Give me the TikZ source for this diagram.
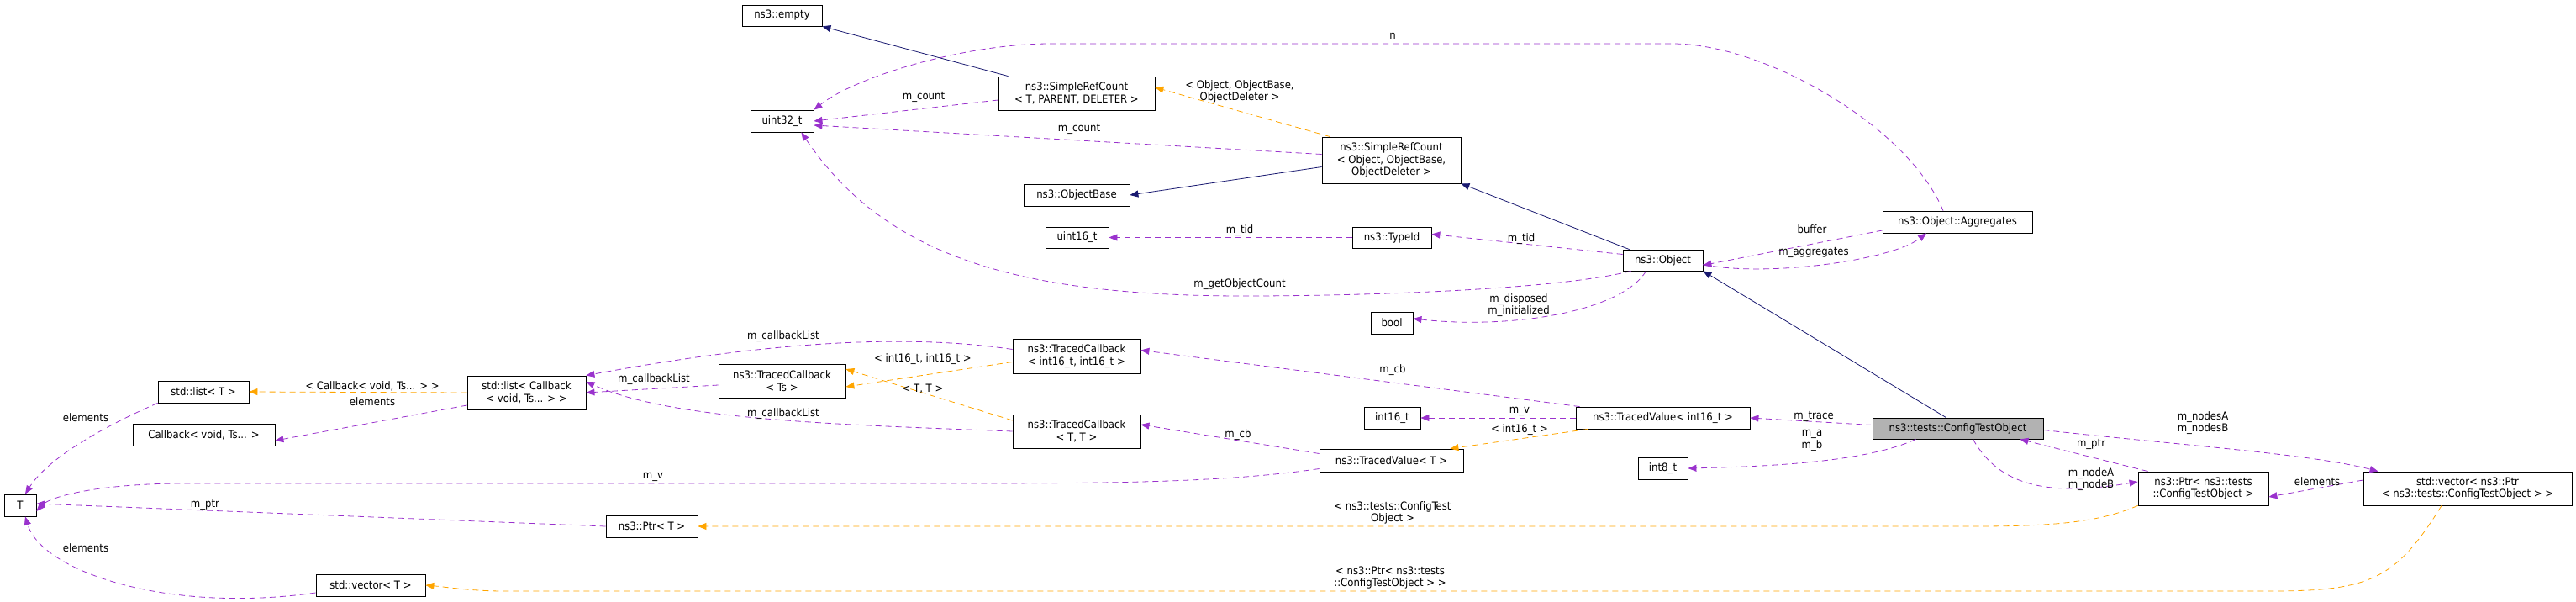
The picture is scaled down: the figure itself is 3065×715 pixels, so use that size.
\documentclass[tikz,border=0pt]{standalone}
\usepackage{fontspec}
\setmainfont{DejaVu Sans Condensed}
\usetikzlibrary{arrows.meta}

\definecolor{member}{HTML}{9A32CD}
\definecolor{tmpl}{HTML}{FFA500}
\definecolor{inherit}{HTML}{191970}

\begin{document}
\begin{tikzpicture}[x=1pt,y=-1pt,>={Triangle[length=10pt,width=8pt]},
                    font=\fontsize{13}{14.5}\selectfont]

  \tikzset{cls/.style={draw,thick,rectangle,align=center,inner sep=1pt},
           uses/.style={->,dash pattern=on 7pt off 5pt,member,thick},
           inst/.style={->,dash pattern=on 7pt off 5pt,tmpl,thick},
           base/.style={->,inherit,thick},
           lbl/.style={align=center,inner sep=0pt}}

  \useasboundingbox (0,0) rectangle (3065,715);

  % classes
  \node[cls,minimum width=95,minimum height=25]  (empty)   at (930.5,18.5) {ns3::empty};
  \node[cls,minimum width=75,minimum height=26]  (uint32)  at (930.5,144)  {uint32\_t};
  \node[cls,minimum width=186,minimum height=40] (srcT)    at (1281,111)   {ns3::SimpleRefCount\\< T, PARENT, DELETER >};
  \node[cls,minimum width=165,minimum height=55] (srcO)    at (1655.5,190.5) {ns3::SimpleRefCount\\< Object, ObjectBase,\\ObjectDeleter >};
  \node[cls,minimum width=126,minimum height=26] (objbase) at (1281,232)   {ns3::ObjectBase};
  \node[cls,minimum width=75,minimum height=25]  (uint16)  at (1281.5,282.5) {uint16\_t};
  \node[cls,minimum width=94,minimum height=25]  (typeid)  at (1656,282.5) {ns3::TypeId};
  \node[cls,minimum width=50,minimum height=26]  (bool)    at (1656,384)   {bool};
  \node[cls,minimum width=95,minimum height=25]  (object)  at (1978.5,309.5) {ns3::Object};
  \node[cls,minimum width=178,minimum height=26] (aggr)    at (2329,264)   {ns3::Object::Aggregates};
  \node[cls,minimum width=151,minimum height=40] (tcTs)    at (930.5,453)  {ns3::TracedCallback\\< Ts >};
  \node[cls,minimum width=152,minimum height=41] (tcII)    at (1281,423.5) {ns3::TracedCallback\\< int16\_t, int16\_t >};
  \node[cls,minimum width=152,minimum height=40] (tcTT)    at (1281,513)   {ns3::TracedCallback\\< T, T >};
  \node[cls,minimum width=141,minimum height=40] (listCb)  at (626.5,467)  {std::list< Callback\\< void, Ts... > >};
  \node[cls,minimum width=108,minimum height=26] (listT)   at (242,466)    {std::list< T >};
  \node[cls,minimum width=169,minimum height=26] (cb)      at (242.5,517)  {Callback< void, Ts... >};
  \node[cls,minimum width=38,minimum height=26]  (T)       at (24,601)     {T};
  \node[cls,minimum width=109,minimum height=26] (ptrT)    at (775.5,626)  {ns3::Ptr< T >};
  \node[cls,minimum width=130,minimum height=26] (vecT)    at (441,696)    {std::vector< T >};
  \node[cls,minimum width=67,minimum height=26]  (int16)   at (1656.5,497) {int16\_t};
  \node[cls,minimum width=207,minimum height=26] (tvI16)   at (1978.5,497) {ns3::TracedValue< int16\_t >};
  \node[cls,minimum width=171,minimum height=27] (tvT)     at (1655.5,547.5) {ns3::TracedValue< T >};
  \node[cls,minimum width=203,minimum height=25,fill=black!30] (cto) at (2329.5,509.5) {ns3::tests::ConfigTestObject};
  \node[cls,minimum width=59,minimum height=26]  (int8)    at (1978.5,557) {int8\_t};
  \node[cls,minimum width=155,minimum height=40] (ptrCto)  at (2621.5,581) {ns3::Ptr< ns3::tests\\::ConfigTestObject >};
  \node[cls,minimum width=248,minimum height=40] (vecPtr)  at (2936,581)   {std::vector< ns3::Ptr\\< ns3::tests::ConfigTestObject > >};

  % inheritance
  \draw[base] (srcT.north west) ++(12,0) -- (empty.south east);
  \draw[base] (srcO.west) ++(0,8) -- (objbase.east);
  \draw[base] (object.north west) ++(8,0) -- (srcO.south east);
  \draw[base] (cto.north) ++(-14,0) -- (object.south east);

  % members
  \draw[uses] (aggr.north) ++(-17,0) .. controls (2270,150) and (2100,52) .. (1990,52)
              -- (1250,52) .. controls (1150,52) and (1020,90) .. (uint32.north east);
  \draw[uses] (srcT.west) ++(0,8) -- (uint32.east);
  \draw[uses] (srcO.west) ++(0,-7) -- ([yshift=-5]uint32.east);
  \draw[uses] (object.south west) ++(10,0) .. controls (1850,345) and (1620,352) .. (1480,352)
              .. controls (1200,352) and (1050,300) .. ([xshift=-15]uint32.south east);
  \draw[uses] (typeid.west) -- (uint16.east);
  \draw[uses] (object.west) ++(0,-7) -- ([yshift=4]typeid.east);
  \draw[uses] (object.south) ++(-20,0) .. controls (1930,370) and (1800,392) .. ([yshift=5]bool.east);
  \draw[uses] (aggr.west) ++(0,10) -- ([yshift=-6]object.east);
  \draw[uses] (object.east) ++(0,5) .. controls (2100,330) and (2250,310) .. ([xshift=-37]aggr.south);
  \draw[uses] (tcII.west) ++(0,-8) .. controls (1100,400) and (950,400) .. (listCb.north east);
  \draw[uses] (tcTs.west) ++(0,5) -- (listCb.east);
  \draw[uses] (tcTT.west) .. controls (1000,505) and (800,500) .. ([yshift=13]listCb.east);
  \draw[uses] (listCb.west) ++(0,15) -- ([yshift=-7]cb.east);
  \draw[uses] (listT.south west) .. controls (140,500) and (60,540) .. ([xshift=6]T.north);
  \draw[uses] (tvT.west) ++(0,10) .. controls (1450,575) and (1300,575) .. (1100,575)
              -- (220,575) .. controls (120,575) and (60,590) .. ([yshift=-7]T.east);
  \draw[uses] (ptrT.west) -- ([yshift=2]T.east);
  \draw[uses] (vecT.west) ++(0,9) .. controls (200,730) and (50,680) .. ([xshift=6]T.south);
  \draw[uses] (tvI16.north west) ++(5,0) -- ([yshift=7]tcII.east);
  \draw[uses] (tvI16.west) -- (int16.east);
  \draw[uses] (tvT.west) ++(0,-8) -- ([yshift=8]tcTT.east);
  \draw[uses] (cto.west) ++(0,-4) -- (tvI16.east);
  \draw[uses] (cto.south) ++(-50,0) .. controls (2220,550) and (2100,555) .. (int8.east);
  \draw[uses] (cto.south) ++(18,0) .. controls (2380,580) and (2440,590) .. ([yshift=8]ptrCto.west);
  \draw[uses] (ptrCto.north west) ++(12,0) -- ([xshift=-28]cto.south east);
  \draw[uses] (cto.east) ++(0,2) .. controls (2600,530) and (2750,540) .. ([xshift=18]vecPtr.north west);
  \draw[uses] (vecPtr.west) ++(0,-10) -- ([yshift=-10]ptrCto.east);

  % template instances
  \draw[inst] (srcO.north west) ++(10,0) -- ([yshift=7]srcT.east);
  \draw[inst] (tcII.west) ++(0,7) -- ([yshift=-7]tcTs.east);
  \draw[inst] (tcTT.west) ++(0,-13) -- ([yshift=14]tcTs.east);
  \draw[inst] (listCb.west) -- (listT.east);
  \draw[inst] (tvI16.south west) ++(15,0) -- ([xshift=-16]tvT.north east);
  \draw[inst] (ptrCto.south west) .. controls (2500,620) and (2450,626) .. (2350,626) -- (ptrT.east);
  \draw[inst] (vecPtr.south) ++(-31,0) .. controls (2850,690) and (2820,703) .. (2700,703)
              -- (600,703) .. controls (560,703) and (530,698) .. (vecT.east);

  % labels
  \node[lbl] (lN)     at (1657,43)  {n};
  \node[lbl] (lCnt1)  at (1099,115) {m\_count};
  \node[lbl] (lCnt2)  at (1284,153) {m\_count};
  \node[lbl] (lSrcO)  at (1475,109) {< Object, ObjectBase,\\ObjectDeleter >};
  \node[lbl] (lTid1)  at (1475,274) {m\_tid};
  \node[lbl] (lTid2)  at (1810,284) {m\_tid};
  \node[lbl] (lGoc)   at (1475,338) {m\_getObjectCount};
  \node[lbl] (lDisp)  at (1807,363) {m\_disposed\\m\_initialized};
  \node[lbl] (lBuf)   at (2156,273) {buffer};
  \node[lbl] (lAggr)  at (2158,300) {m\_aggregates};
  \node[lbl] (lTrace) at (2158,495) {m\_trace};
  \node[lbl] (lAB)    at (2156,524) {m\_a\\m\_b};
  \node[lbl] (lNodes) at (2621,503) {m\_nodesA\\m\_nodesB};
  \node[lbl] (lPtr)   at (2488,528) {m\_ptr};
  \node[lbl] (lNode)  at (2488,570) {m\_nodeA\\m\_nodeB};
  \node[lbl] (lElem1) at (2757,573) {elements};
  \node[lbl] (lCbT)   at (443,459)  {< Callback< void, Ts... > >};
  \node[lbl] (lElem2) at (443,478)  {elements};
  \node[lbl] (lElem3) at (102,497)  {elements};
  \node[lbl] (lCbl1)  at (932,400)  {m\_callbackList};
  \node[lbl] (lCbl2)  at (778,451)  {m\_callbackList};
  \node[lbl] (lCbl3)  at (932,492)  {m\_callbackList};
  \node[lbl] (lV1)    at (777,567)  {m\_v};
  \node[lbl] (lPtrT)  at (244,600)  {m\_ptr};
  \node[lbl] (lElem4) at (102,652)  {elements};
  \node[lbl] (lII)    at (1098,427) {< int16\_t, int16\_t >};
  \node[lbl] (lTT)    at (1098,463) {< T, T >};
  \node[lbl] (lCb1)   at (1657,440) {m\_cb};
  \node[lbl] (lCb2)   at (1473,517) {m\_cb};
  \node[lbl] (lV2)    at (1808,489) {m\_v};
  \node[lbl] (lI16)   at (1808,511) {< int16\_t >};
  \node[lbl] (lCtoT)  at (1657,610) {< ns3::tests::ConfigTest\\Object >};
  \node[lbl] (lPtrV)  at (1654,687) {< ns3::Ptr< ns3::tests\\::ConfigTestObject > >};

\end{tikzpicture}
\end{document}
